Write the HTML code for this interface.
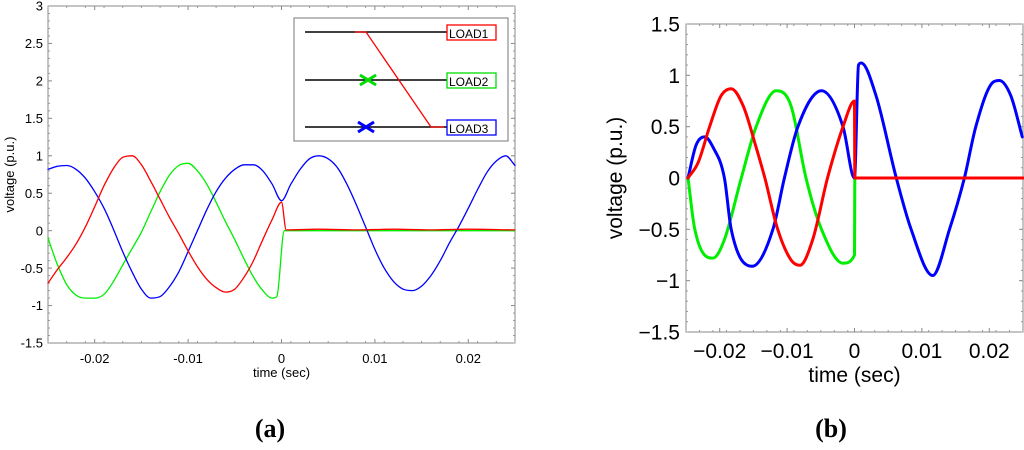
<!DOCTYPE html>
<html><head><meta charset="utf-8"><style>
body{margin:0;background:#fff;width:1024px;height:445px;overflow:hidden}
svg text{font-family:"Liberation Sans",sans-serif}
</style></head><body>
<svg id="s" width="1024" height="445" xmlns="http://www.w3.org/2000/svg">
<g id="ga"></g>
<g id="gb"></g>
<g>
<rect x="294" y="18" width="214" height="123" fill="#fff" stroke="#777" stroke-width="1"/>
<line x1="305" y1="32" x2="447" y2="32" stroke="#000" stroke-width="1.5"/>
<line x1="305" y1="80" x2="447" y2="80" stroke="#000" stroke-width="1.5"/>
<line x1="305" y1="127" x2="447" y2="127" stroke="#000" stroke-width="1.5"/>
<polyline points="355,32 366,32 431,127 444,127" fill="none" stroke="#f00" stroke-width="1.3"/>
<g stroke="#0d0" stroke-width="3"><line x1="360" y1="75" x2="376" y2="85"/><line x1="360" y1="85" x2="376" y2="75"/></g>
<g stroke="#00f" stroke-width="3"><line x1="358" y1="122" x2="374" y2="132"/><line x1="358" y1="132" x2="374" y2="122"/></g>
<rect x="447" y="25" width="49" height="15" fill="#fff" stroke="#f00" stroke-width="1.3"/>
<rect x="447" y="73" width="49" height="15" fill="#fff" stroke="#0d0" stroke-width="1.3"/>
<rect x="447" y="120" width="49" height="15" fill="#fff" stroke="#00f" stroke-width="1.3"/>
<text x="449" y="38" font-size="12">LOAD1</text>
<text x="449" y="86" font-size="12">LOAD2</text>
<text x="449" y="133" font-size="12">LOAD3</text>
</g>
<text x="270" y="437" font-size="26" font-weight="bold" text-anchor="middle" style="font-family:'Liberation Serif',serif">(a)</text>
<text x="831" y="437" font-size="26" font-weight="bold" text-anchor="middle" style="font-family:'Liberation Serif',serif">(b)</text>
</svg>
<script>
// ---- Chart (a) data ----
const aYTicks = [3,2.5,2,1.5,1,0.5,0,-0.5,-1,-1.5];
const aXTicks = [-0.02,-0.01,0,0.01,0.02];
const aBlueT = [-0.025,-0.024,-0.023,-0.022,-0.021,-0.020,-0.019,-0.018,-0.017,-0.016,-0.015,-0.014,-0.013,-0.012,-0.011,-0.010,-0.009,-0.008,-0.007,-0.006,-0.005,-0.004,-0.003,-0.002,-0.001,0,0.001,0.002,0.003,0.004,0.005,0.006,0.007,0.008,0.009,0.010,0.011,0.012,0.013,0.014,0.015,0.016,0.017,0.018,0.019,0.020,0.021,0.022,0.023,0.024,0.025];
const aBlueV = [0.82,0.86,0.87,0.82,0.70,0.52,0.30,0.02,-0.28,-0.55,-0.78,-0.90,-0.88,-0.75,-0.55,-0.28,0.0,0.28,0.52,0.70,0.82,0.88,0.88,0.80,0.62,0.40,0.62,0.82,0.96,1.0,0.96,0.84,0.62,0.35,0.05,-0.25,-0.50,-0.68,-0.78,-0.80,-0.74,-0.60,-0.40,-0.16,0.06,0.30,0.55,0.78,0.93,1.0,0.87];
const aRedT = [-0.025,-0.024,-0.023,-0.022,-0.021,-0.020,-0.019,-0.018,-0.017,-0.016,-0.015,-0.014,-0.013,-0.012,-0.011,-0.010,-0.009,-0.008,-0.007,-0.006,-0.005,-0.004,-0.003,-0.002,-0.001,0,0.0005,0.004,0.008,0.012,0.016,0.020,0.025];
const aRedV = [-0.70,-0.52,-0.36,-0.18,0.05,0.32,0.60,0.83,0.98,1.0,0.88,0.66,0.42,0.18,-0.04,-0.27,-0.48,-0.65,-0.76,-0.82,-0.78,-0.62,-0.40,-0.12,0.15,0.38,0.01,0.02,0.01,0.02,0.01,0.02,0.01];
const aGreenT = [-0.025,-0.024,-0.023,-0.022,-0.021,-0.020,-0.019,-0.018,-0.017,-0.016,-0.015,-0.014,-0.013,-0.012,-0.011,-0.010,-0.009,-0.008,-0.007,-0.006,-0.005,-0.004,-0.003,-0.002,-0.001,-0.0005,0.0003,0.025];
const aGreenV = [-0.10,-0.45,-0.72,-0.86,-0.90,-0.90,-0.85,-0.68,-0.46,-0.24,-0.02,0.25,0.52,0.74,0.87,0.90,0.80,0.62,0.38,0.12,-0.12,-0.38,-0.62,-0.80,-0.90,-0.88,0.0,0.0];
// ---- Chart (b) data ----
const bYTicks = [1.5,1,0.5,0,-0.5,-1,-1.5];
const bXTicks = [-0.02,-0.01,0,0.01,0.02];
const bBlueT = [-0.0247,-0.0235,-0.0222,-0.021,-0.0193,-0.0183,-0.0152,-0.0121,-0.0104,-0.0084,-0.0049,-0.0017,0,0.0006,0.001,0.0032,0.0062,0.0084,0.0116,0.0141,0.0163,0.018,0.0205,0.0215,0.0232,0.0249];
const bBlueV = [0,0.32,0.4,0.3,0.0,-0.5,-0.86,-0.5,0,0.5,0.85,0.5,0,1.1,1.12,0.8,0,-0.5,-0.95,-0.5,0,0.5,0.93,0.95,0.8,0.4];
const bRedT = [-0.0247,-0.0232,-0.0215,-0.0198,-0.0183,-0.0165,-0.0146,-0.0133,-0.0114,-0.0094,-0.0081,-0.0062,-0.004,-0.0017,0,0.00005,0.025];
const bRedV = [0,0.15,0.5,0.8,0.87,0.7,0.3,0,-0.5,-0.8,-0.85,-0.6,0,0.5,0.75,0,0];
const bGreenT = [-0.0247,-0.0237,-0.021,-0.0193,-0.0168,-0.0146,-0.0116,-0.0094,-0.0072,-0.0049,-0.0017,0,0.00005];
const bGreenV = [0,-0.5,-0.78,-0.6,0,0.5,0.85,0.7,0,-0.5,-0.83,-0.75,0];

const NS="http://www.w3.org/2000/svg";
function mk(tag,attrs,parent){const e=document.createElementNS(NS,tag);for(const k in attrs)e.setAttribute(k,attrs[k]);parent.appendChild(e);return e;}
function monoPath(xs,ys){
  const n=xs.length;if(n<2)return '';
  const d=[],m=[];
  for(let i=0;i<n-1;i++){const dx=xs[i+1]-xs[i];d.push(dx>0?(ys[i+1]-ys[i])/dx:0);}
  m[0]=d[0];m[n-1]=d[n-2];
  for(let i=1;i<n-1;i++){m[i]=(d[i-1]*d[i]<=0)?0:(d[i-1]+d[i])/2;}
  for(let i=0;i<n-1;i++){
    if(d[i]===0){m[i]=0;m[i+1]=0;continue;}
    const a=m[i]/d[i],b=m[i+1]/d[i],h=a*a+b*b;
    if(h>9){const t=3/Math.sqrt(h);m[i]=t*a*d[i];m[i+1]=t*b*d[i];}
  }
  let p='M'+xs[0].toFixed(1)+','+ys[0].toFixed(1);
  for(let i=0;i<n-1;i++){
    const dx=xs[i+1]-xs[i];
    if(dx<1.5){p+=' L'+xs[i+1].toFixed(1)+','+ys[i+1].toFixed(1);continue;}
    const c1x=xs[i]+dx/3,c1y=ys[i]+m[i]*dx/3,c2x=xs[i+1]-dx/3,c2y=ys[i+1]-m[i+1]*dx/3;
    p+=' C'+c1x.toFixed(1)+','+c1y.toFixed(1)+' '+c2x.toFixed(1)+','+c2y.toFixed(1)+' '+xs[i+1].toFixed(1)+','+ys[i+1].toFixed(1);
  }
  return p;
}
function drawChart(g,cfg){
  const sx=t=>cfg.x0+(t-cfg.tmin)/(cfg.tmax-cfg.tmin)*(cfg.x1-cfg.x0);
  const sy=v=>cfg.y1-(v-cfg.vmin)/(cfg.vmax-cfg.vmin)*(cfg.y1-cfg.y0);
  const frame=mk('rect',{x:cfg.x0,y:cfg.y0,width:cfg.x1-cfg.x0,height:cfg.y1-cfg.y0,fill:'none',stroke:'#888','stroke-width':1},g);
  
  
  cfg.yt.forEach(v=>{
    const y=sy(v);
    mk('line',{x1:cfg.x0,y1:y,x2:cfg.x0+4,y2:y,stroke:'#888'},g);
    mk('line',{x1:cfg.x1,y1:y,x2:cfg.x1-4,y2:y,stroke:'#888'},g);
    const t=mk('text',{x:cfg.x0-cfg.ylp,y:y+cfg.fs*0.36,'font-size':cfg.fs,'text-anchor':'end'},g);
    t.textContent=cfg.minus?String(v).replace('-','\u2212'):String(v);
    
    
  });
  for(let v=cfg.vmin;v<=cfg.vmax+1e-9;v+=0.1){const y=sy(v);mk('line',{x1:cfg.x0,y1:y,x2:cfg.x0+2,y2:y,stroke:'#999'},g);mk('line',{x1:cfg.x1,y1:y,x2:cfg.x1-2,y2:y,stroke:'#999'},g);}
  for(let t=-0.025;t<=0.025+1e-9;t+=0.002){const x=sx(t);mk('line',{x1:x,y1:cfg.y1,x2:x,y2:cfg.y1-2,stroke:'#999'},g);mk('line',{x1:x,y1:cfg.y0,x2:x,y2:cfg.y0+2,stroke:'#999'},g);}
  cfg.xt.forEach(v=>{
    const x=sx(v);
    mk('line',{x1:x,y1:cfg.y1,x2:x,y2:cfg.y1-4,stroke:'#888'},g);
    mk('line',{x1:x,y1:cfg.y0,x2:x,y2:cfg.y0+4,stroke:'#888'},g);
    const t=mk('text',{x:x,y:cfg.y1+cfg.xlp,'font-size':cfg.fs,'text-anchor':'middle'},g);
    t.textContent=cfg.minus?String(v).replace('-','\u2212'):String(v);
    
    
  });
  const xt=mk('text',{x:(cfg.x0+cfg.x1)/2,y:cfg.xtitleY,'font-size':cfg.fs,'text-anchor':'middle'},g);
  xt.textContent='time (sec)';
  
  
  const yt=mk('text',{x:0,y:0,'font-size':cfg.fs,'text-anchor':'middle',transform:`translate(${cfg.ytitleX},${(cfg.y0+cfg.y1)/2}) rotate(-90)`},g);
  yt.textContent='voltage (p.u.)';
  
  
  cfg.series.forEach(s=>{
    const xs=s.t.map(sx),ys=s.v.map(sy);
    const p=mk('path',{d:monoPath(xs,ys),fill:'none',stroke:s.c,'stroke-width':cfg.lw,'stroke-linejoin':'round','stroke-linecap':'round'},g);
    
    
  });
}
drawChart(document.getElementById('ga'),{x0:48,x1:515,y0:6,y1:343,tmin:-0.025,tmax:0.025,vmin:-1.5,vmax:3,
  yt:aYTicks,xt:aXTicks,fs:13,ylp:5,xlp:20,xtitleY:377,ytitleX:14,lw:1.3,minus:false,
  series:[{t:aGreenT,v:aGreenV,c:'#0e0',name:'series-load2-a'},{t:aBlueT,v:aBlueV,c:'#00f',name:'series-load3-a'},{t:aRedT,v:aRedV,c:'#f00',name:'series-load1-a'}]});
drawChart(document.getElementById('gb'),{x0:686,x1:1023,y0:24,y1:332,tmin:-0.025,tmax:0.025,vmin:-1.5,vmax:1.5,
  yt:bYTicks,xt:bXTicks,fs:21,ylp:6,xlp:26,xtitleY:382,ytitleX:622,lw:3,minus:true,
  series:[{t:bGreenT,v:bGreenV,c:'#0e0',name:'series-load2-b'},{t:bBlueT,v:bBlueV,c:'#00f',name:'series-load3-b'},{t:bRedT,v:bRedV,c:'#f00',name:'series-load1-b'}]});
</script>
</body></html>
